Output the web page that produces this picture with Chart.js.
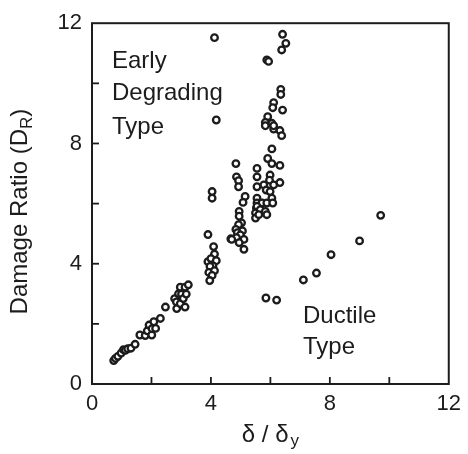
<!DOCTYPE html>
<html>
<head>
<meta charset="utf-8">
<script src="https://cdn.jsdelivr.net/npm/chart.js@4.4.1/dist/chart.umd.min.js"></script>
<style>
html,body{margin:0;padding:0;background:#fff;}
canvas{display:block;}
</style>
</head>
<body>
<canvas id="c" width="468" height="454"></canvas>
<script>
// δ/δy values (x) and damage ratio values (y)
const earlyX = [0.73,0.79,0.87,0.98,1.06,1.12,1.20,1.31,1.45,1.61,1.79,1.86,1.92,2.01,2.02,2.08,2.14,2.30,2.47,2.78,2.84,2.85,2.91,2.97,2.97,3.01,3.07,3.13,3.13,3.17,3.24,
  3.90,4.09,4.12,3.90,4.00,4.18,4.07,3.97,3.93,4.12,4.04,3.96,4.04,4.04,4.12,4.18,4.67,
  4.84,4.86,4.93,4.93,5.15,5.08,4.95,4.95,5.03,4.93,4.84,5.06,4.89,4.99,4.86,4.70,5.11,4.95,5.11,
  5.55,5.55,5.55,5.55,5.55,5.53,5.50,5.50,
  6.41,6.52,6.38,5.88,5.94,6.35,6.35,6.11,6.08,6.41,5.91,5.83,6.05,6.11,6.32,5.83,6.11,6.38,6.05,5.91,6.05,6.32,5.99,5.97,6.11,6.32,5.78,5.86,5.99,6.05,5.72,5.88,6.08,5.55,5.66,5.83,5.61,5.88];
const earlyY = [0.78,0.85,0.92,1.03,1.14,1.12,1.17,1.19,1.32,1.63,1.61,1.77,1.96,1.63,1.84,2.07,1.85,2.18,2.56,2.84,2.73,2.51,3.00,3.22,2.67,2.99,2.84,3.22,2.56,2.99,3.30,
  4.97,4.57,4.32,4.07,4.17,4.10,3.93,3.91,3.71,3.77,3.61,3.44,6.40,6.18,11.52,8.78,4.83,
  7.33,6.89,6.76,6.56,6.24,6.04,5.74,5.58,5.36,5.30,5.14,5.09,5.03,4.96,4.87,4.81,4.81,4.70,4.48,
  7.17,6.89,6.56,6.18,6.02,5.85,5.69,5.52,
  11.63,11.33,11.11,10.78,10.73,9.80,9.63,9.36,9.19,9.11,8.89,8.70,8.67,8.48,8.43,8.59,8.59,8.26,7.82,7.50,7.33,7.27,6.95,6.78,6.62,6.70,6.62,6.45,6.40,6.18,6.02,6.02,6.02,5.91,5.80,5.74,5.63,5.63];
const ductileX = [5.85,6.21,7.11,7.55,8.04,9.00,9.71];
const ductileY = [2.86,2.79,3.46,3.69,4.30,4.76,5.61];
const axisTicks = [0,2,4,6,8,10,12];
const labelledTicks = [0,4,8,12];

const FONT = "'Liberation Sans', Arial, Helvetica, sans-serif";
const INK = '#1c1c1c';

function pts(xs, ys){ return xs.map((x,i)=>({x:x, y:ys[i]})); }

const pointStyle = {
  showLine:false, pointRadius:3.3, pointHoverRadius:3.3, pointBorderWidth:2.3,
  pointBackgroundColor:'#fff', pointBorderColor:INK, borderColor:INK, backgroundColor:'#fff', clip:false
};

const framePlugin = {
  id:'frame',
  beforeDatasetsDraw(chart){
    const {ctx, chartArea:a, scales:{x, y}} = chart;
    ctx.save();
    ctx.strokeStyle = INK; ctx.lineWidth = 2;
    ctx.strokeRect(a.left, a.top, a.right-a.left, a.bottom-a.top);
    ctx.lineWidth = 1.8;
    const L = 7;
    axisTicks.forEach(v=>{
      if (v===0 || v===12) return;
      const px = x.getPixelForValue(v);
      ctx.beginPath(); ctx.moveTo(px, a.bottom); ctx.lineTo(px, a.bottom-L); ctx.stroke();
      const py = y.getPixelForValue(v);
      ctx.beginPath(); ctx.moveTo(a.left, py); ctx.lineTo(a.left+L, py); ctx.stroke();
    });
    ctx.restore();
  },
  afterDraw(chart){
    const {ctx, chartArea:a} = chart;
    ctx.save();
    ctx.fillStyle = INK;
    ctx.textBaseline = 'alphabetic';
    ctx.textAlign = 'left';
    // Y title with subscript
    ctx.save();
    ctx.translate(27, (a.top+a.bottom)/2 + 8);
    ctx.rotate(-Math.PI/2);
    const main = 'Damage Ratio (D', sub = 'R', close = ')';
    ctx.font = '24px ' + FONT;
    const w1 = ctx.measureText(main).width, w3 = ctx.measureText(close).width;
    ctx.font = '17px ' + FONT;
    const w2 = ctx.measureText(sub).width;
    const tot = w1 + w2 + w3;
    let sx = -tot/2;
    ctx.font = '24px ' + FONT; ctx.fillText(main, sx, 0); sx += w1;
    ctx.font = '17px ' + FONT; ctx.fillText(sub, sx, 5); sx += w2;
    ctx.font = '24px ' + FONT; ctx.fillText(close, sx, 0);
    ctx.restore();
    // X title
    ctx.font = '24px ' + FONT;
    const xm = 'δ / δ';
    const xw = ctx.measureText(xm).width;
    ctx.font = '17px ' + FONT;
    const xs = ctx.measureText('y').width;
    let x0 = (a.left+a.right)/2 - (xw+xs+2)/2;
    ctx.font = '24px ' + FONT; ctx.fillText(xm, x0, 442);
    ctx.font = '17px ' + FONT; ctx.fillText('y', x0+xw+2, 446);
    // annotations
    ctx.font = '24px ' + FONT;
    ctx.fillText('Early', 112, 68);
    ctx.fillText('Degrading', 112, 100);
    ctx.fillText('Type', 112, 134);
    ctx.fillText('Ductile', 303, 323);
    ctx.fillText('Type', 303, 354);
    ctx.restore();
  }
};

new Chart(document.getElementById('c'), {
  type:'scatter',
  data:{ datasets:[
    Object.assign({label:'Early Degrading Type', data:pts(earlyX, earlyY)}, pointStyle),
    Object.assign({label:'Ductile Type', data:pts(ductileX, ductileY)}, pointStyle)
  ]},
  options:{
    responsive:false, animation:false, devicePixelRatio:1,
    layout:{padding:{top:18, right:14, left:0, bottom:0}},
    plugins:{legend:{display:false}, tooltip:{enabled:false}},
    events:[],
    scales:{
      x:{type:'linear', min:0, max:12,
        afterBuildTicks(s){ s.ticks = axisTicks.map(v=>({value:v})); },
        ticks:{callback:v=> labelledTicks.includes(v) ? String(v) : '', font:{size:22, family:FONT}, color:INK, padding:7, maxRotation:0, autoSkip:false},
        grid:{display:false, drawTicks:false}, border:{display:false},
        afterFit(s){ s.height = 70; }
      },
      y:{type:'linear', min:0, max:12,
        afterBuildTicks(s){ s.ticks = axisTicks.map(v=>({value:v})); },
        ticks:{callback:v=> labelledTicks.includes(v) ? String(v) : '', font:{size:22, family:FONT}, color:INK, padding:10, autoSkip:false},
        grid:{display:false, drawTicks:false}, border:{display:false},
        afterFit(s){ s.width = 92; }
      }
    }
  },
  plugins:[framePlugin]
});
</script>
</body>
</html>
